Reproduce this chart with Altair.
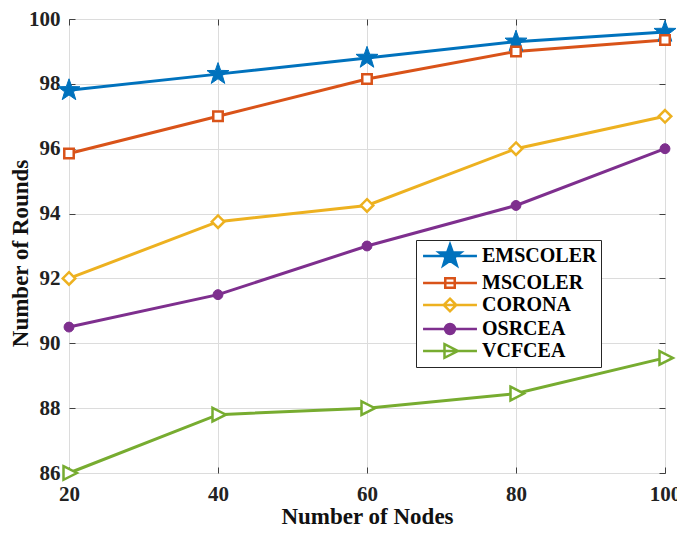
import math
import altair as alt
import pandas as pd

# ---------------- data ----------------
nodes = [20, 40, 60, 80, 100]
series_names = ["EMSCOLER", "MSCOLER", "CORONA", "OSRCEA", "VCFCEA"]
emscoler = [97.8, 98.3, 98.8, 99.3, 99.6]
mscoler = [95.85, 97.0, 98.15, 99.0, 99.35]
corona = [92.0, 93.75, 94.25, 96.0, 97.0]
osrcea = [90.5, 91.5, 93.0, 94.25, 96.0]
vcfcea = [86.0, 87.8, 88.0, 88.45, 89.55]
y_ticks = [86, 88, 90, 92, 94, 96, 98, 100]

series_values = [emscoler, mscoler, corona, osrcea, vcfcea]

# ---------------- styles ----------------
colors = ["#0072BD", "#D95319", "#EDB120", "#7E2F8E", "#77AC30"]
fills = ["#0072BD", "#FFFFFF", "#FFFFFF", "#7E2F8E", "#FFFFFF"]
FONT = "Liberation Serif"


def star_pts(k_scale):
    pts = []
    for k in range(10):
        r = (1.05 if k % 2 == 0 else 0.42) * k_scale
        a = math.radians(-90 + 36 * k)
        pts.append(f"{r * math.cos(a):.3f},{r * math.sin(a):.3f}")
    return "M" + "L".join(pts) + "Z"


def marker_paths(s):
    return [
        star_pts(s),
        f"M{-0.43*s:.3f},{-0.43*s:.3f}H{0.43*s:.3f}V{0.43*s:.3f}H{-0.43*s:.3f}Z",
        f"M0,{-0.57*s:.3f}L{0.57*s:.3f},0L0,{0.57*s:.3f}L{-0.57*s:.3f},0Z",
        f"M{-0.45*s:.3f},0A{0.45*s:.3f},{0.45*s:.3f} 0 1,0 {0.45*s:.3f},0"
        f"A{0.45*s:.3f},{0.45*s:.3f} 0 1,0 {-0.45*s:.3f},0Z",
        f"M{-0.5*s:.3f},{-0.62*s:.3f}L{0.72*s:.3f},0L{-0.5*s:.3f},{0.62*s:.3f}Z",
    ]


markers = marker_paths(1.0)
marker_stroke = [1, 2.5, 2.5, 1, 2.5]
LEG_SIZE = 441
leg_s = 22.0 / math.sqrt(LEG_SIZE)
legend_shapes = [f"M{-2.45*leg_s:.3f},0H{2.45*leg_s:.3f}" + m for m in marker_paths(leg_s)]

rows = []
for name, vals in zip(series_names, series_values):
    for n, v in zip(nodes, vals):
        rows.append({"nodes": n, "rounds": v, "series": name})
df = pd.DataFrame(rows)

xscale = alt.Scale(domain=[20, 100], nice=False, zero=False)
yscale = alt.Scale(domain=[86, 100], nice=False, zero=False)

base = alt.Chart(df)

x_main = alt.Axis(
    orient="bottom", values=nodes, title="Number of Nodes", grid=True,
    gridColor="#dcdcdc", gridWidth=1, ticks=False, tickSize=0, domain=False,
    labelFont=FONT, labelFontSize=21, labelFontWeight="bold", labelColor="#222222",
    labelPadding=10, labelFlush=False, labelOverlap=False,
    titleFont=FONT, titleFontSize=23, titleFontWeight="bold", titleColor="#111111",
    titleY=32,
)
y_main = alt.Axis(
    orient="left", values=y_ticks, title="Number of Rounds", grid=True,
    gridColor="#dcdcdc", gridWidth=1, ticks=False, tickSize=0, domain=False,
    labelFont=FONT, labelFontSize=21, labelFontWeight="bold", labelColor="#222222",
    labelPadding=9, labelFlush=False, labelOverlap=False,
    titleFont=FONT, titleFontSize=23, titleFontWeight="bold", titleColor="#111111",
    titleX=-37, titleY=234,
)


def tick_axis(orient, vals):
    return alt.Axis(
        orient=orient, values=vals, offset=-6, tickSize=6, ticks=True,
        tickColor="#404040", tickWidth=1, labels=False, domain=False,
        grid=False, title=None,
    )


line_layers = []
point_layers = []
for i, name in enumerate(series_names):
    sub = base.transform_filter(alt.datum.series == name)
    if i == 0:
        lxa, lya = x_main, y_main
    else:
        lxa, lya = None, None
    line_layers.append(
        sub.mark_line(strokeWidth=3, color=colors[i]).encode(
            x=alt.X("nodes:Q", scale=xscale, axis=lxa),
            y=alt.Y("rounds:Q", scale=yscale, axis=lya),
        )
    )
    if i == 0:
        xa, ya = tick_axis("bottom", nodes), tick_axis("left", y_ticks)
    elif i == 1:
        xa, ya = tick_axis("top", nodes), tick_axis("right", y_ticks)
    else:
        xa, ya = None, None
    point_layers.append(
        sub.mark_point(
            shape=markers[i], size=484, stroke=colors[i], fill=fills[i],
            strokeWidth=marker_stroke[i], opacity=1, fillOpacity=1, filled=False,
        ).encode(
            x=alt.X("nodes:Q", scale=xscale, axis=xa),
            y=alt.Y("rounds:Q", scale=yscale, axis=ya),
        )
    )


def legend_spec():
    return alt.Legend(
        title=None, orient="none", legendX=347, legendY=221,
        fillColor="white", strokeColor="#262626",
        padding=4, symbolSize=LEG_SIZE, symbolStrokeWidth=2.5,
        symbolOffset=18, labelOffset=20, rowPadding=0,
        labelFont=FONT, labelFontSize=20, labelFontWeight="bold",
        labelColor="#000000", labelLimit=0,
    )


legend_layer = base.mark_point(
    size=LEG_SIZE, strokeWidth=2.5, opacity=1, fillOpacity=1, filled=False
).encode(
    x=alt.X("nodes:Q", scale=xscale, axis=None),
    y=alt.Y("rounds:Q", scale=yscale, axis=None),
    stroke=alt.Stroke("series:N", scale=alt.Scale(domain=series_names, range=colors),
                      legend=legend_spec()),
    fill=alt.Fill("series:N", scale=alt.Scale(domain=series_names, range=fills),
                  legend=legend_spec()),
    shape=alt.Shape("series:N", scale=alt.Scale(domain=series_names, range=legend_shapes),
                    legend=legend_spec()),
    opacity=alt.value(0),
)

chart = alt.layer(*line_layers, *point_layers, legend_layer).resolve_axis(
    x="independent", y="independent"
).properties(
    width=596, height=454,
    padding={"left": 61, "top": 11, "right": 12, "bottom": 55},
    autosize=alt.AutoSizeParams(type="none"),
    background="white",
).configure_view(stroke="#404040", strokeWidth=1).configure_legend(
    strokeWidth=1, cornerRadius=0, symbolOpacity=1
)

chart.save("out.html", embed_options={"renderer": "svg", "actions": False})
